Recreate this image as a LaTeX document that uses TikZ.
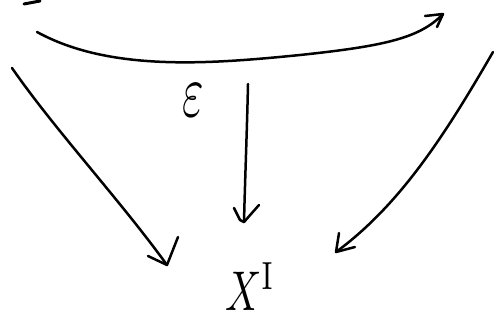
\documentclass[tikz,border=0pt]{standalone}
\usepackage{graphicx}
\usetikzlibrary{calc}
\begin{document}
\begin{tikzpicture}[x=1pt,y=-1pt,
  stroke/.style={line width=2.5pt,line cap=round,line join=round,black},
  lbl/.style={inner sep=0pt,outer sep=0pt}]
\useasboundingbox (0,0) rectangle (494,320);
% cut-off stroke at top left
\draw[stroke,line width=3pt] (24,4) -- (40,1);
% labels
\node[lbl] (eps) at (193,100) {\scalebox{4.6}[7.5]{$\varepsilon$}};
\node[lbl,anchor=base west] (xi) at (225,310) {\scalebox{4}[5.6]{$X^{\mathrm{I}}$}};
% endpoints
\coordinate (ts) at (37,32);
\coordinate (te) at (443,14);
\coordinate (ls) at (12,68);
\coordinate (le) at (167,265);
\coordinate (ms) at (248,84);
\coordinate (me) at (244,222);
\coordinate (rs) at (493,52);
\coordinate (re) at (336,252);
% top curve
\draw[stroke] (ts) .. controls (110,72) and (210,64) .. (300,55)
  .. controls (385,46) and (420,38) .. (te);
\draw[stroke] ($(te)+(-18,2)$) -- (te) -- ($(te)+(-6,13)$);
% left arrow
\draw[stroke] (ls) .. controls (55,130) and (120,200) .. (le);
\draw[stroke] ($(le)+(-19,-9)$) -- (le) -- ($(le)+(11,-28)$);
% middle arrow
\draw[stroke] (ms) .. controls (247,130) and (245,180) .. (me);
\draw[stroke] ($(me)+(-10,-14)$) -- ($(me)+(-4,-2)$) -- (me) -- ($(me)+(15,-17)$);
% right arrow
\draw[stroke] (rs) .. controls (445,135) and (400,205) .. (re);
\draw[stroke] ($(re)+(3,-19)$) -- (re) -- ($(re)+(19,-5)$);
\end{tikzpicture}
\end{document}
